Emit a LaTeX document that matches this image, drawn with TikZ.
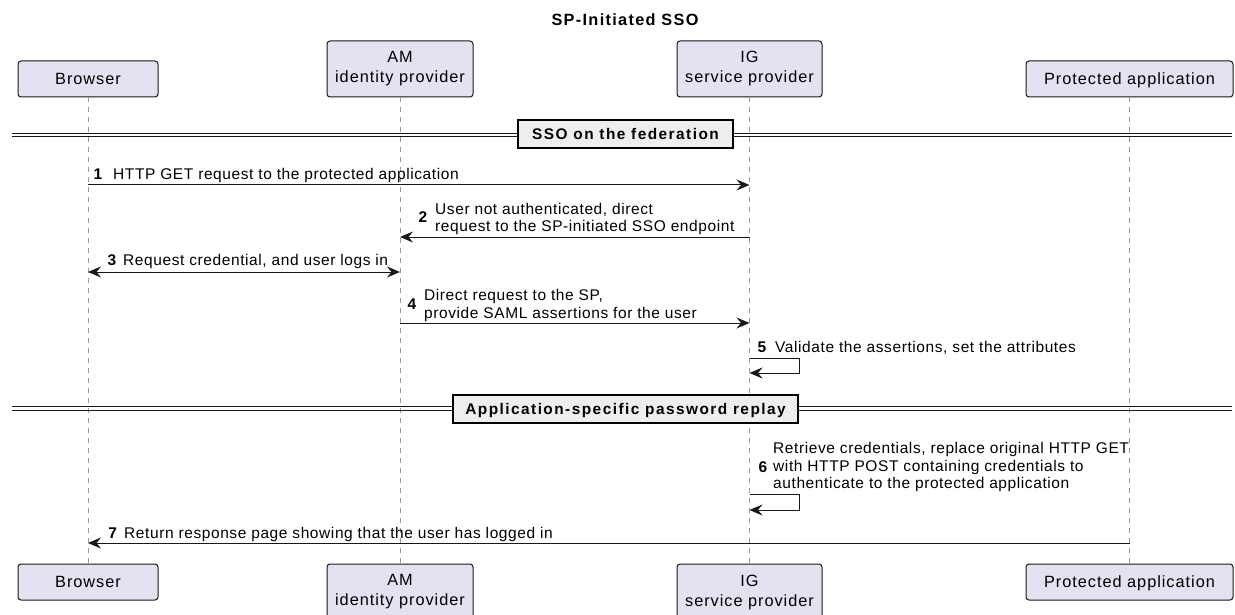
\documentclass[tikz,border=0pt]{standalone}
\usepackage{fontspec}
\setmainfont{Liberation Sans}
\newfontfamily\pfont[LetterSpace=6]{Liberation Sans}
\newfontfamily\mfont[LetterSpace=3.8]{Liberation Sans}
\newfontfamily\sfont[LetterSpace=9.5]{Liberation Sans}
\newfontfamily\tfont[LetterSpace=8]{Liberation Sans}
\usetikzlibrary{arrows.meta}
\definecolor{pfill}{HTML}{E2E2F0}
\definecolor{ink}{HTML}{181818}
\definecolor{sepfill}{HTML}{EEEEEE}
\definecolor{life}{HTML}{9A9A9A}
\begin{document}
\begin{tikzpicture}[x=1pt,y=-1pt,
  part/.style={draw=ink, fill=pfill, line width=1pt, rounded corners=3pt, inner sep=0pt, align=center,
    font=\pfont\fontsize{16.3}{20}\selectfont},
  lifeline/.style={draw=life, line width=0.9pt, dash pattern=on 5pt off 5pt},
  arr/.style={draw=ink, line width=1pt, -{Stealth[length=13pt,width=11pt,inset=4.5pt]}},
  arrboth/.style={draw=ink, line width=1pt, {Stealth[length=13pt,width=11pt,inset=4.5pt]}-{Stealth[length=13pt,width=11pt,inset=4.5pt]}},
  selfline/.style={draw=ink, line width=1pt, -{Stealth[length=13pt,width=11pt,inset=4.5pt]}},
  msg/.style={inner sep=0pt, anchor=west, text height=11.1pt, text depth=0pt, font=\mfont\fontsize{15.5}{17.3}\selectfont},
  msgml/.style={inner sep=0pt, anchor=west, align=left, font=\mfont\fontsize{15.5}{17.3}\selectfont},
  num/.style={inner sep=0pt, anchor=center, text height=11.1pt, text depth=0pt, font=\mfont\fontsize{15.5}{17.3}\selectfont\bfseries},
  sepbox/.style={draw=black, fill=sepfill, line width=2pt, inner sep=0pt, minimum height=28pt,
    text height=11pt, text depth=0pt, font=\sfont\fontsize{15.4}{18}\selectfont\bfseries},
  sepline/.style={draw=ink, line width=1pt},
  title/.style={inner sep=0pt, text height=11.7pt, text depth=0pt, font=\tfont\fontsize{16.3}{20}\selectfont\bfseries}
]
\useasboundingbox (0,0) rectangle (1235,615);
\fill[white] (0,0) rectangle (1235,615);

% title
\node[title] (ttl) at (625,20) {SP-Initiated SSO};

% participants (top)
\node[part, minimum width=140pt, minimum height=36pt, text height=11.7pt, text depth=0pt] (bT) at (88,79) {Browser};
\node[part, minimum width=146pt, minimum height=56pt] (aT) at (400,69) {AM\\identity provider};
\node[part, minimum width=145pt, minimum height=56pt] (iT) at (749.5,69) {IG\\service provider};
\node[part, minimum width=207pt, minimum height=36pt, text height=11.7pt, text depth=0pt] (pT) at (1129.5,79) {Protected application};

% participants (bottom)
\node[part, minimum width=140pt, minimum height=36pt, text height=11.7pt, text depth=0pt] (bB) at (88,582) {Browser};
\node[part, minimum width=146pt, minimum height=56pt] (aB) at (400,592) {AM\\identity provider};
\node[part, minimum width=145pt, minimum height=56pt] (iB) at (749.5,592) {IG\\service provider};
\node[part, minimum width=207pt, minimum height=36pt, text height=11.7pt, text depth=0pt] (pB) at (1129.5,582) {Protected application};

% lifelines
\draw[lifeline] (bT.south) -- (bB.north);
\draw[lifeline] (aT.south) -- (aB.north);
\draw[lifeline] (iT.south) -- (iB.north);
\draw[lifeline] (pT.south) -- (pB.north);

% separator 1
\coordinate (s1La) at (12,133.3); \coordinate (s1Ra) at (1232,133.3);
\coordinate (s1Lb) at (12,136.7); \coordinate (s1Rb) at (1232,136.7);
\draw[sepline] (s1La) -- (s1Ra);
\draw[sepline] (s1Lb) -- (s1Rb);
\node[sepbox, minimum width=215pt] (sep1) at (625.5,134) {SSO on the federation};

% message 1
\coordinate (y1) at (0,185);
\draw[arr] (bT.south |- y1) -- (iT.south |- y1);
\node[num] (n1) at (98,174) {1};
\node[msg] (t1) at (113,174) {HTTP GET request to the protected application};

% message 2
\coordinate (y2) at (0,237);
\draw[arr] (iT.south |- y2) -- (aT.south |- y2);
\node[num] (n2) at (423,217) {2};
\node[msgml] (t2) at (435,219) {User not authenticated, direct\\request to the SP-initiated SSO endpoint};

% message 3
\coordinate (y3) at (0,272);
\draw[arrboth] (bT.south |- y3) -- (aT.south |- y3);
\node[num] (n3) at (112,260) {3};
\node[msg] (t3) at (123,260) {Request credential, and user logs in};

% message 4
\coordinate (y4) at (0,323);
\draw[arr] (aT.south |- y4) -- (iT.south |- y4);
\node[num] (n4) at (412,304) {4};
\node[msgml] (t4) at (424,305.5) {Direct request to the SP,\\provide SAML assertions for the user};

% message 5 (self)
\coordinate (y5a) at (0,358); \coordinate (y5b) at (0,373); \coordinate (x5) at (799,0);
\draw[selfline] (iT.south |- y5a) -- (x5 |- y5a) -- (x5 |- y5b) -- (iT.south |- y5b);
\node[num] (n5) at (762,347) {5};
\node[msg] (t5) at (775,347) {Validate the assertions, set the attributes};

% separator 2
\coordinate (s2La) at (12,406.7); \coordinate (s2Ra) at (1232,406.7);
\coordinate (s2Lb) at (12,410); \coordinate (s2Rb) at (1232,410);
\draw[sepline] (s2La) -- (s2Ra);
\draw[sepline] (s2Lb) -- (s2Rb);
\node[sepbox, minimum width=345pt] (sep2) at (625.5,408.5) {Application-specific password replay};

% message 6 (self)
\coordinate (y6a) at (0,494); \coordinate (y6b) at (0,510); \coordinate (x6) at (799,0);
\draw[selfline] (iT.south |- y6a) -- (x6 |- y6a) -- (x6 |- y6b) -- (iT.south |- y6b);
\node[num] (n6) at (763,467) {6};
\node[msgml] (t6) at (773,467) {Retrieve credentials, replace original HTTP GET\\with HTTP POST containing credentials to\\authenticate to the protected application};

% message 7
\coordinate (y7) at (0,543);
\draw[arr] (pT.south |- y7) -- (bT.south |- y7);
\node[num] (n7) at (112.7,533) {7};
\node[msg] (t7) at (124,533) {Return response page showing that the user has logged in};
\end{tikzpicture}
\end{document}
